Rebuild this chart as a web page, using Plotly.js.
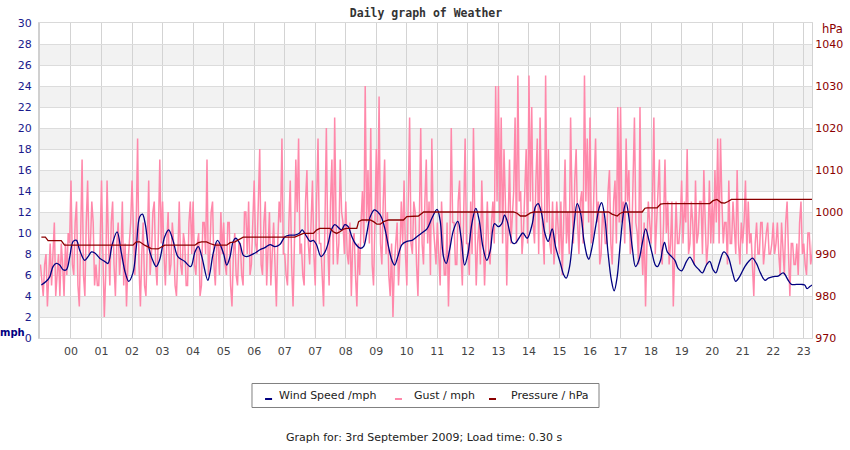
<!DOCTYPE html>
<html>
<head>
<meta charset="utf-8">
<script src="https://cdn.plot.ly/plotly-3.0.1.min.js"></script>
<style>
  html, body { margin: 0; padding: 0; background: #ffffff; }
  #chart { width: 850px; height: 450px; }
</style>
</head>
<body>
<div id="chart"></div>
<script>
// Hour tick labels (the 07 hour appears twice on the original)
const hourLabels = ["00","01","02","03","04","05","06","07","07","08","09","10","11","12","13","14","15","16","17","18","19","20","21","22","23"];

// Gust readings (mph), one reading every 1/22 of an hour slot, starting one slot before "00"
const gustStart = -1.0;
const gustStep = 1 / 22;
const gust = [
  7,5,4,7,8,3,6,9,5,8,11,4,6,8,4,9,7,4,9,6,10,9,
  15,7,6,11,13,5,3,9,17,6,4,11,15,8,9,13,11,5,7,5,5,9,
  15,8,2,6,15,9,5,11,13,7,4,9,11,6,8,13,5,9,3,7,9,11,
  15,9,6,11,19,7,3,8,11,5,4,9,15,6,8,12,13,7,5,10,17,9,
  13,8,5,9,12,6,7,11,9,5,4,8,13,7,6,10,9,5,5,11,13,8,
  13,7,6,9,10,4,5,11,11,8,17,6,8,12,13,7,5,9,9,6,12,8,
  11,7,6,11,11,5,3,8,10,6,5,9,9,6,5,12,12,8,13,6,7,11,
  15,9,8,13,18,7,6,11,13,5,9,12,5,9,11,7,3,9,13,11,19,8,
  8,6,5,11,15,7,3,9,17,12,19,8,9,6,5,13,16,9,7,11,15,8,
  5,13,19,9,9,6,3,11,20,9,5,13,17,7,21,11,7,9,17,12,11,8,
  13,8,7,11,4,9,10,6,3,9,6,11,14,9,24,11,16,9,20,7,5,11,
  18,11,23,9,7,13,17,8,12,6,4,9,2,7,9,11,5,8,13,9,15,8,
  5,12,21,9,8,13,12,7,4,11,20,9,7,13,17,9,13,6,19,11,9,7,
  11,7,5,13,9,6,6,11,3,9,20,11,11,7,7,13,15,8,5,11,19,9,
  9,6,13,8,20,11,5,9,11,7,15,10,5,9,13,8,7,11,13,9,24,13,
  24,11,21,9,18,13,5,11,17,9,11,14,21,9,25,13,14,8,10,15,18,9,
  25,13,22,11,9,15,19,8,21,13,10,7,25,11,18,9,8,13,7,9,13,11,
  8,13,6,11,17,9,12,8,21,13,9,15,18,11,8,13,14,9,25,13,19,11,
  21,9,10,15,19,11,13,7,8,12,11,9,9,14,16,9,7,13,15,9,22,11,
  22,11,13,9,19,13,16,8,9,15,21,11,10,7,22,9,6,11,3,9,13,11,
  9,13,21,8,11,15,17,9,7,11,17,10,13,7,9,13,3,8,13,9,9,11,
  15,9,13,11,18,8,9,13,11,7,15,9,10,13,13,8,16,11,7,9,15,9,
  13,9,16,11,19,9,19,13,9,11,11,7,15,9,9,13,11,8,16,9,7,11,
  9,11,15,8,13,9,10,7,4,9,11,8,8,11,11,7,9,10,11,8,8,9,
  11,8,9,11,8,6,11,9,6,11,13,8,4,9,9,7,7,9,6,11,13,8,
  9,7,6,10,10,7,8,11,6,9,9,7,7,13,8,6,11,6,9,8,7,10,8,6,8,9,8,7,9
];
const gustTime = gust.map((_, i) => gustStart + i * gustStep);

// Wind speed (mph) readings
const windTime = [-0.97,-0.81,-0.70,-0.59,-0.48,-0.37,-0.26,-0.15,-0.04,0.07,0.18,0.28,0.45,0.56,0.67,0.78,0.94,1.10,1.21,1.35,1.51,1.65,1.78,1.89,2.03,2.14,2.25,2.34,2.43,2.54,2.69,2.79,2.90,3.07,3.20,3.34,3.50,3.72,3.92,4.06,4.17,4.28,4.48,4.55,4.66,4.80,4.99,5.10,5.21,5.31,5.39,5.53,5.64,5.75,6.03,6.19,6.35,6.52,6.68,6.84,7.01,7.17,7.33,7.49,7.57,7.72,7.83,7.94,8.04,8.19,8.32,8.42,8.53,8.64,8.86,8.97,9.08,9.20,9.31,9.47,9.58,9.69,9.80,9.94,10.05,10.16,10.29,10.40,10.51,10.60,10.71,10.84,11.00,11.17,11.33,11.49,11.66,11.82,11.99,12.09,12.20,12.29,12.40,12.53,12.67,12.78,12.89,13.00,13.13,13.26,13.37,13.49,13.62,13.73,13.87,14.00,14.11,14.20,14.28,14.40,14.45,14.54,14.67,14.80,14.94,15.11,15.21,15.30,15.41,15.52,15.63,15.76,15.87,16.03,16.14,16.22,16.33,16.47,16.58,16.69,16.80,16.91,16.96,17.07,17.20,17.31,17.38,17.48,17.59,17.70,17.79,17.89,17.99,18.11,18.18,18.27,18.38,18.49,18.60,18.71,18.82,18.93,19.03,19.14,19.21,19.31,19.37,19.44,19.53,19.67,19.78,19.89,20.00,20.16,20.27,20.43,20.57,20.68,20.81,20.92,21.03,21.12,21.23,21.38,21.52,21.67,21.77,21.90,22.07,22.23,22.32,22.45,22.58,22.73,22.84,23.00,23.16,23.33,23.49,23.60,23.76,23.92,24.03,24.11,24.20,24.27];
const windSpeed = [5.05,5.4,5.8,6.8,7.1,6.95,6.5,6.5,7.75,9.2,9.3,8.4,7.4,7.75,8.2,8.1,7.6,7.3,7.1,8.9,10.1,8.1,6.2,5.4,6.2,8.7,11.55,11.8,10.9,8.7,7.3,6.8,7.4,9.65,10.3,9.3,7.75,7.3,6.8,8.2,8.7,7.8,5.5,6.2,8.1,9.3,8.1,6.95,7.75,9.2,9.5,9.0,7.9,7.75,8.1,8.4,8.6,8.9,8.7,8.9,9.65,9.8,9.8,10.0,10.3,9.65,9.2,9.3,8.9,7.75,8.2,9.0,10.3,10.8,10.3,10.8,10.6,9.65,9.0,8.55,8.7,10.0,11.55,12.2,12.0,11.55,10.3,8.7,7.4,6.95,7.8,8.9,9.2,9.3,9.65,10.0,10.4,11.4,12.25,11.2,7.75,7.1,8.4,10.3,11.1,9.5,6.95,8.0,10.9,12.35,11.2,8.7,7.4,8.3,10.9,10.6,10.9,11.7,11.2,9.65,9.1,9.0,9.5,10.0,9.5,10.9,12.5,12.8,11.9,10.0,9.2,10.4,8.7,7.1,6.0,5.7,6.8,10.6,12.8,11.9,9.3,7.75,7.5,8.7,10.9,12.5,12.9,11.55,8.1,5.5,4.5,5.85,9.0,12.2,12.9,11.55,8.7,6.8,7.4,9.0,10.4,9.3,8.1,6.95,6.8,7.4,8.4,9.1,8.2,7.75,7.4,6.6,6.4,7.3,7.7,6.95,6.5,6.2,6.95,7.3,6.5,6.2,7.1,8.2,7.75,6.2,5.4,5.85,6.8,7.4,7.6,7.1,6.2,5.5,5.7,5.85,5.9,6.2,5.5,5.1,5.1,5.1,5.05,4.7,4.9,5.05];

// Pressure (hPa) readings
const pressureTime = [-0.97,-0.84,-0.75,-0.32,-0.21,2.03,2.14,2.25,2.41,2.63,2.85,2.96,3.07,4.06,4.17,4.28,4.44,4.55,4.71,5.10,5.21,5.37,5.48,5.64,7.33,7.49,7.61,7.94,8.04,8.15,8.48,8.59,8.70,8.81,8.92,9.03,9.36,9.42,9.53,9.80,9.91,10.02,10.13,10.24,10.40,10.89,11.00,11.38,11.49,11.55,14.50,14.61,14.72,14.89,15.05,15.16,17.61,17.72,17.89,17.99,18.11,18.71,18.80,18.87,19.20,19.31,19.42,20.92,21.03,21.16,21.30,21.41,21.52,21.63,24.27];
const pressure = [994.0,994.0,993.2,993.2,992.1,992.1,992.9,992.9,992.1,991.3,991.2,991.75,992.1,992.1,992.7,992.9,992.9,992.5,992.1,992.1,992.7,992.9,993.3,994.0,994.0,994.5,994.9,994.9,995.7,996.1,996.1,995.3,994.9,995.3,995.9,996.1,996.1,997.7,998.1,998.1,997.7,997.1,997.1,997.7,998.1,998.1,998.9,999.05,999.8,1000.0,1000.0,999.7,999.05,999.05,999.8,1000.0,1000.0,999.5,999.05,999.7,1000.0,1000.0,1000.9,1001.0,1001.0,1001.9,1002.0,1002.0,1002.7,1003.0,1002.2,1002.1,1002.5,1003.0,1003.0];

const mphTicks = [0,2,4,6,8,10,12,14,16,18,20,22,24,26,28,30];
const hpaTicks = [970,980,990,1000,1010,1020,1030,1040];

// Legend entries (drawn as a boxed key under the chart)
const legendNames = ["Wind Speed /mph", "Gust / mph", "Pressure / hPa"];
const legendColors = ["#000080", "#ff88aa", "#8b0000"];

const tickIdx = hourLabels.map((_, i) => i);

const traces = [
  {
    x: gustTime, y: gust, type: "scatter", mode: "lines",
    name: legendNames[1], showlegend: false,
    line: { color: legendColors[1], width: 1.5 }, hoverinfo: "skip"
  },
  {
    x: windTime, y: windSpeed, type: "scatter", mode: "lines",
    name: legendNames[0], showlegend: false,
    line: { color: legendColors[0], width: 1.3, shape: "spline", smoothing: 1 }, hoverinfo: "skip"
  },
  {
    x: pressureTime, y: pressure, type: "scatter", mode: "lines",
    name: legendNames[2], showlegend: false, yaxis: "y2",
    line: { color: legendColors[2], width: 1.3 }, hoverinfo: "skip"
  }
];

// alternating horizontal bands
const shapes = [];
for (let b = 2; b < 30; b += 4) {
  shapes.push({ type: "rect", xref: "paper", yref: "y", x0: 0, x1: 1, y0: b, y1: b + 2,
    fillcolor: "#f2f2f2", line: { width: 0 }, layer: "below" });
}

// legend box, swatches and labels (paper coordinates)
const annotations = [];
shapes.push({ type: "rect", xref: "paper", yref: "paper", x0: 0.2746, x1: 0.7241, y0: -0.2206, y1: -0.1444,
  line: { color: "#808080", width: 1 }, fillcolor: "rgba(0,0,0,0)", layer: "above" });
const swatchX = [0.2915, 0.4598, 0.5816];
const labelX = [0.3070, 0.4819, 0.6075];
legendNames.forEach((nm, i) => {
  shapes.push({ type: "line", xref: "paper", yref: "paper", x0: swatchX[i], x1: swatchX[i] + 0.0091,
    y0: -0.1937, y1: -0.1937, line: { color: legendColors[i], width: 2 }, layer: "above" });
  annotations.push({ text: nm, xref: "paper", yref: "paper", x: labelX[i], y: -0.1841,
    xanchor: "left", yanchor: "middle", showarrow: false,
    font: { family: "DejaVu Sans, sans-serif", size: 11, color: "#222222" } });
});

annotations.push(
  { text: "<b>mph</b>", xref: "paper", yref: "paper", x: -0.0356, y: 0.016,
    xanchor: "center", yanchor: "middle", showarrow: false,
    font: { family: "DejaVu Sans, sans-serif", size: 10, color: "#000080" } },
  { text: "hPa", xref: "paper", yref: "paper", x: 1.026, y: 0.981,
    xanchor: "center", yanchor: "middle", showarrow: false,
    font: { family: "DejaVu Sans, sans-serif", size: 11.5, color: "#8b0000" } },
  { text: "Graph for: 3rd September 2009; Load time: 0.30 s", xref: "paper", yref: "paper",
    x: 0.4987, y: -0.317, xanchor: "center", yanchor: "middle", showarrow: false,
    font: { family: "DejaVu Sans, sans-serif", size: 11, color: "#222222" } }
);

const layout = {
  width: 850, height: 450,
  margin: { l: 40, r: 38, t: 23, b: 112, pad: 0 },
  paper_bgcolor: "#ffffff", plot_bgcolor: "#ffffff",
  font: { family: "DejaVu Sans, sans-serif", size: 11, color: "#333333" },
  title: {
    text: "<b>Daily graph of Weather</b>",
    font: { family: "DejaVu Sans Mono, monospace", size: 11.5, color: "#333333" },
    x: 0.5, xref: "paper", xanchor: "center", y: 0.971, yref: "container", yanchor: "middle"
  },
  showlegend: false,
  xaxis: {
    range: [-1.015, 24.27], tickmode: "array", tickvals: tickIdx, ticktext: hourLabels,
    showgrid: true, gridcolor: "#d3d3d3", gridwidth: 1, zeroline: false,
    showline: true, mirror: true, linecolor: "#d9d9d9", linewidth: 1,
    ticks: "outside", ticklen: 3, tickcolor: "rgba(0,0,0,0)",
    tickfont: { family: "DejaVu Sans, sans-serif", size: 11, color: "#444444" },
    fixedrange: true
  },
  yaxis: {
    range: [0, 30], tickmode: "array", tickvals: mphTicks,
    showgrid: true, gridcolor: "#dcdcdc", gridwidth: 1, zeroline: false,
    showline: true, linecolor: "#d0d0d0", linewidth: 2,
    ticks: "outside", ticklen: 4, tickcolor: "rgba(0,0,0,0)",
    tickfont: { family: "DejaVu Sans, sans-serif", size: 11, color: "#1a1a8c" },
    fixedrange: true
  },
  yaxis2: {
    overlaying: "y", side: "right", range: [970, 1045], tickmode: "array", tickvals: hpaTicks,
    showgrid: false, zeroline: false,
    showline: true, linecolor: "#d3d3d3", linewidth: 1,
    ticks: "", tickfont: { family: "DejaVu Sans, sans-serif", size: 11, color: "#8b0000" },
    fixedrange: true
  },
  shapes: shapes,
  annotations: annotations
};

Plotly.newPlot("chart", traces, layout, { displayModeBar: false, staticPlot: true });
</script>
</body>
</html>
